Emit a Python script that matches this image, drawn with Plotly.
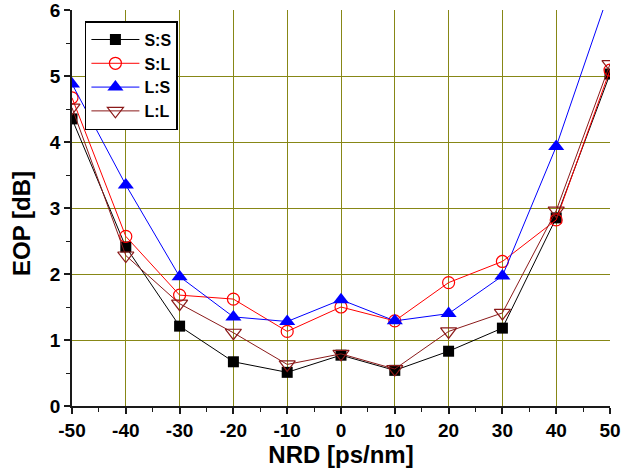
import plotly.graph_objects as go

nrd = [-50, -40, -30, -20, -10, 0, 10, 20, 30, 40, 50]
ss = [4.35, 2.41, 1.21, 0.67, 0.51, 0.77, 0.54, 0.83, 1.18, 2.85, 5.03]
sl = [4.67, 2.57, 1.68, 1.62, 1.13, 1.50, 1.29, 1.87, 2.19, 2.82, 5.09]
ls = [4.88, 3.35, 1.96, 1.35, 1.28, 1.61, 1.29, 1.40, 1.97, 3.93, 6.31]
ll = [4.52, 2.28, 1.55, 1.11, 0.63, 0.79, 0.56, 1.13, 1.41, 2.96, 5.18]
names = ["S:S", "S:L", "L:S", "L:L"]
xticks = [-50, -40, -30, -20, -10, 0, 10, 20, 30, 40, 50]
xticklabels = ["-50", "-40", "-30", "-20", "-10", "0", "10", "20", "30", "40", "50"]
yticks = [0, 1, 2, 3, 4, 5, 6]
yticklabels = ["0", "1", "2", "3", "4", "5", "6"]

FONT = "Liberation Sans, Arial, sans-serif"
grid_col = "#878716"
axis_col = "#1a1a1a"

fig = go.Figure()
specs = [
    (ss, "black", dict(symbol="square", color="black", size=11)),
    (sl, "#ff0000", dict(symbol="circle-open", color="#ff0000", size=12, line=dict(width=1.2))),
    (ls, "#0000ff", dict(symbol="triangle-up", color="#0000ff", size=14)),
    (ll, "#8b1a1a", dict(symbol="triangle-down-open", color="#8b1a1a", size=14, line=dict(width=1.2))),
]
for name, (vals, col, mk) in zip(names, specs):
    fig.add_trace(go.Scatter(x=nrd, y=vals, name=name, mode="lines+markers",
                             line=dict(color=col, width=1), marker=mk))

tick_common = dict(showline=True, linecolor=axis_col, linewidth=1.5,
                   tickcolor=axis_col, tickwidth=1.5, ticklen=6, zeroline=False)

fig.update_layout(
    width=630, height=471,
    margin=dict(l=72, r=20, t=10, b=65, autoexpand=False),
    paper_bgcolor="white", plot_bgcolor="white",
    font=dict(family=FONT, color="black"),
    showlegend=True,
    legend=dict(x=0.024, y=0.972, xanchor="left", yanchor="top",
                bgcolor="white", bordercolor="black", borderwidth=1.5,
                font=dict(family=FONT, size=16, weight="bold"),
                itemwidth=48),
    xaxis=dict(range=[-50, 50], tickvals=xticks, ticktext=xticklabels,
               showgrid=True, gridcolor=grid_col, gridwidth=1.2,
               ticks="outside", ticklabeloverflow="allow",
               minor=dict(dtick=5, ticks="outside", ticklen=4, tickcolor=axis_col, tickwidth=1, showgrid=False),
               tickfont=dict(family=FONT, size=19, weight="bold"),
               title=dict(text="NRD [ps/nm]", font=dict(family=FONT, size=24, weight="bold"), standoff=4),
               **tick_common),
    yaxis=dict(range=[0, 6], tickvals=yticks, ticktext=yticklabels,
               showgrid=True, gridcolor=grid_col, gridwidth=1.2,
               ticks="outside", ticklabeloverflow="allow",
               minor=dict(dtick=0.5, ticks="outside", ticklen=4, tickcolor=axis_col, tickwidth=1, showgrid=False),
               tickfont=dict(family=FONT, size=19, weight="bold"),
               **tick_common),
    xaxis2=dict(range=[-50, 50], overlaying="x", side="top", tickvals=xticks,
                ticks="inside",
                minor=dict(dtick=5, ticks="inside", ticklen=4, tickcolor=axis_col, tickwidth=1),
                showticklabels=False, showgrid=False, **tick_common),
    yaxis2=dict(range=[0, 6], overlaying="y", side="right", tickvals=yticks,
                ticks="inside",
                minor=dict(dtick=0.5, ticks="inside", ticklen=4, tickcolor=axis_col, tickwidth=1),
                showticklabels=False, showgrid=False, **tick_common),
    annotations=[dict(text="EOP [dB]", textangle=-90, xref="paper", yref="paper",
                      x=-0.095, y=0.462, xanchor="center", yanchor="middle", showarrow=False,
                      font=dict(family=FONT, size=24, weight="bold"))],
)
fig.write_html("out.html", config={"displayModeBar": False},
               post_script="document.body.style.margin='0';")
